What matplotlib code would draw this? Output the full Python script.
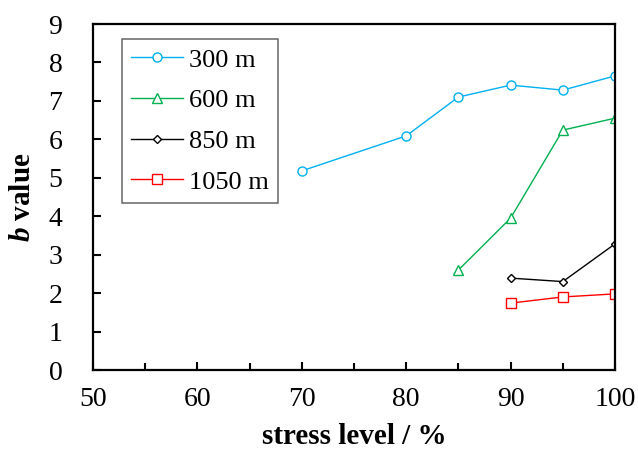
import matplotlib
matplotlib.use("Agg")
import matplotlib.pyplot as plt

plt.rcParams['font.family'] = ['Liberation Serif', 'DejaVu Serif']
plt.rcParams['mathtext.fontset'] = 'custom'
plt.rcParams['mathtext.bfit'] = 'Liberation Serif:italic:bold'
plt.rcParams['mathtext.it'] = 'Liberation Serif:italic:bold'

x300 = [70, 80, 85, 90, 95, 100]
y300 = [5.18, 6.09, 7.10, 7.41, 7.28, 7.65]
x600 = [85, 90, 95, 100]
y600 = [2.60, 3.95, 6.24, 6.55]
x850 = [90, 95, 100]
y850 = [2.39, 2.30, 3.28]
x1050 = [90, 95, 100]
y1050 = [1.74, 1.90, 1.98]
labels = ['300 m', '600 m', '850 m', '1050 m']

fig = plt.figure(figsize=(6.38, 4.59), dpi=100)
ax = fig.add_axes([93/638, 1 - 370/459, (615 - 93)/638, (370 - 24)/459])

kw = dict(lw=1.0, ms=6.5, mfc='white', mew=1.0)
ax.plot(x300, y300, marker='o', color='#00B0F0', label=labels[0], **kw)
ax.plot(x600, y600, marker='^', color='#00B050', label=labels[1], **kw)
ax.plot(x850, y850, marker='D', color='black', label=labels[2], lw=1.0, ms=4.5, mfc='white', mew=1.0)
ax.plot(x1050, y1050, marker='s', color='#FF0000', label=labels[3], **kw)

ax.set_xlim(50, 100)
ax.set_ylim(0, 9)
ax.set_xticks(range(50, 101, 10))
ax.set_xticks(range(55, 100, 10), minor=True)
ax.set_yticks(range(0, 10))
ax.tick_params(axis='both', which='both', direction='in', labelsize=20, width=1.5, top=False, right=False)
ax.tick_params(axis='both', which='major', length=6)
ax.tick_params(axis='x', which='minor', length=5)
ax.tick_params(axis='x', which='both', pad=12)
ax.tick_params(axis='y', which='both', pad=22)
for s in ax.spines.values():
    s.set_linewidth(1.6)

ax.set_xlabel('stress level / %', fontsize=21, fontweight='bold', labelpad=8)
ax.set_ylabel(r'$\boldsymbol{b}$ value', fontsize=21, fontweight='bold', labelpad=9)

leg = ax.legend(loc='upper left', bbox_to_anchor=((122 - 93) / 522, (370 - 39) / 346), fontsize=19,
                frameon=True, fancybox=False, edgecolor='#404040', handlelength=1.95,
                labelspacing=0.65, borderpad=0.35, borderaxespad=0, handletextpad=0.25)
leg.get_frame().set_linewidth(1.1)

fig.savefig('out.png', dpi=100)
